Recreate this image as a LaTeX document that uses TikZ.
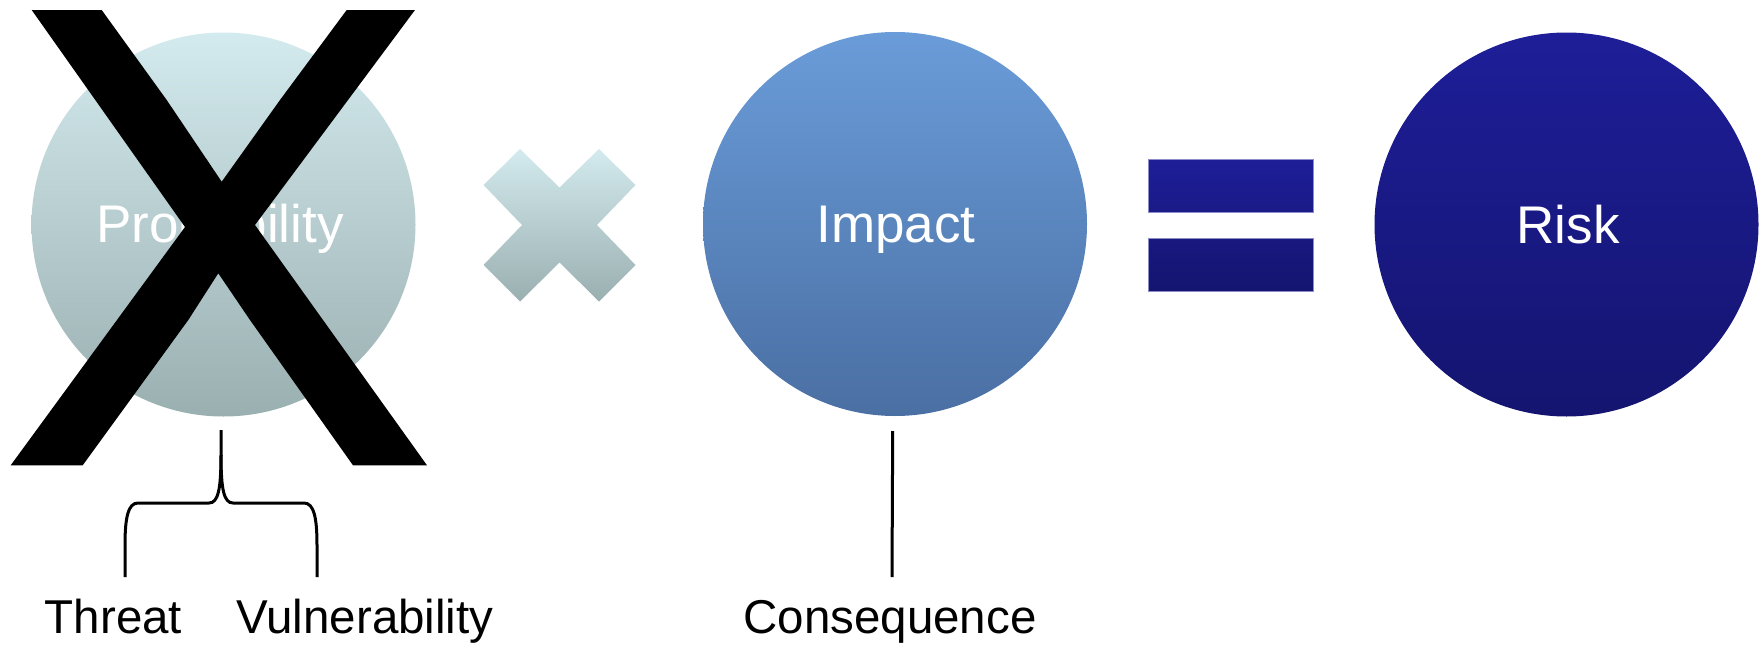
\documentclass[tikz,border=0pt]{standalone}
\usepackage{fontspec}
\setmainfont{Liberation Sans}
\definecolor{probtop}{HTML}{D3EAEE}
\definecolor{probbot}{HTML}{9AAFB0}
\definecolor{imptop}{HTML}{6A9CD9}
\definecolor{impbot}{HTML}{4A6FA3}
\definecolor{risktop}{HTML}{1E1E98}
\definecolor{riskbot}{HTML}{141470}
\definecolor{eqedge}{HTML}{8C8CC8}
\begin{document}
\begin{tikzpicture}[x=1pt,y=-1pt,
  ball/.style={circle, minimum size=384pt, inner sep=0pt, draw=none},
  bigtext/.style={text=white, anchor=base, inner sep=0pt, font=\fontsize{53}{60}\selectfont},
  labeltext/.style={text=black, anchor=base, inner sep=0pt, font=\fontsize{47.5}{55}\selectfont},
  link/.style={line width=3pt, black}]
\useasboundingbox (0,0) rectangle (1761,645);

% the three factors
\node[ball, top color=probtop, bottom color=probbot] (prob) at (223.5,224.5) {};
\node[ball, top color=imptop, bottom color=impbot] (impact) at (895,224) {};
\node[ball, top color=risktop, bottom color=riskbot] (risk) at (1566.5,224.5) {};

\node[bigtext] (probtxt) at (220,242.5) {Probability};
\node[bigtext] (imptxt) at (896,242) {Impact};
\node[bigtext] (risktxt) at (1568,243) {Risk};

% multiplication sign
\shade[top color=probtop, bottom color=probbot]
  (483.5,185) -- (520,149) -- (559.5,187.5) -- (599,149) -- (635.5,185)
  -- (597,225) -- (635.5,265) -- (599,301.5) -- (559.5,262.5) -- (520,301.5)
  -- (483.5,265) -- (522,225) -- cycle;

% equals sign
\shade[top color=risktop, bottom color=riskbot]
  (1148,159) rectangle (1313,212) (1148,238) rectangle (1313,291);
\draw[eqedge, line width=0.8pt]
  (1148,159) rectangle (1313,212) (1148,238) rectangle (1313,291);

% crossing out
\fill[black]
  (31.7,10) -- (101.7,10) -- (166.7,100) -- (221.7,181.7) -- (280,100)
  -- (346.7,10) -- (415,10) -- (255,225) -- (427,465.3) -- (353,465.3)
  -- (250,320) -- (218.3,273.3) -- (188.3,320) -- (82.7,465.3)
  -- (10.7,465.3) -- (185,227) -- cycle;

% labels below
\node[labeltext] (threat) at (113.5,633) {Threat};
\node[labeltext] (vuln) at (365,633) {Vulnerability};
\node[labeltext] (conseq) at (890,633) {Consequence};

% brace under probability
\coordinate (bracetip) at (221,430);
\coordinate (braceL) at (125,577);
\coordinate (braceR) at (317,577);
\draw[link] (bracetip) -- (221,455) .. controls (221,490) and (218,503) .. (209,503)
  -- (138,503) .. controls (128,503) and (125,518) .. (125,545) -- (braceL);
\draw[link] (221,455) .. controls (221,490) and (224,503) .. (233,503)
  -- (304,503) .. controls (314,503) and (317,518) .. (317,545) -- (braceR);

% line under impact
\coordinate (contop) at (892.7,431);
\coordinate (conbot) at (892,577);
\draw[link] (contop) -- (conbot);
\end{tikzpicture}
\end{document}
